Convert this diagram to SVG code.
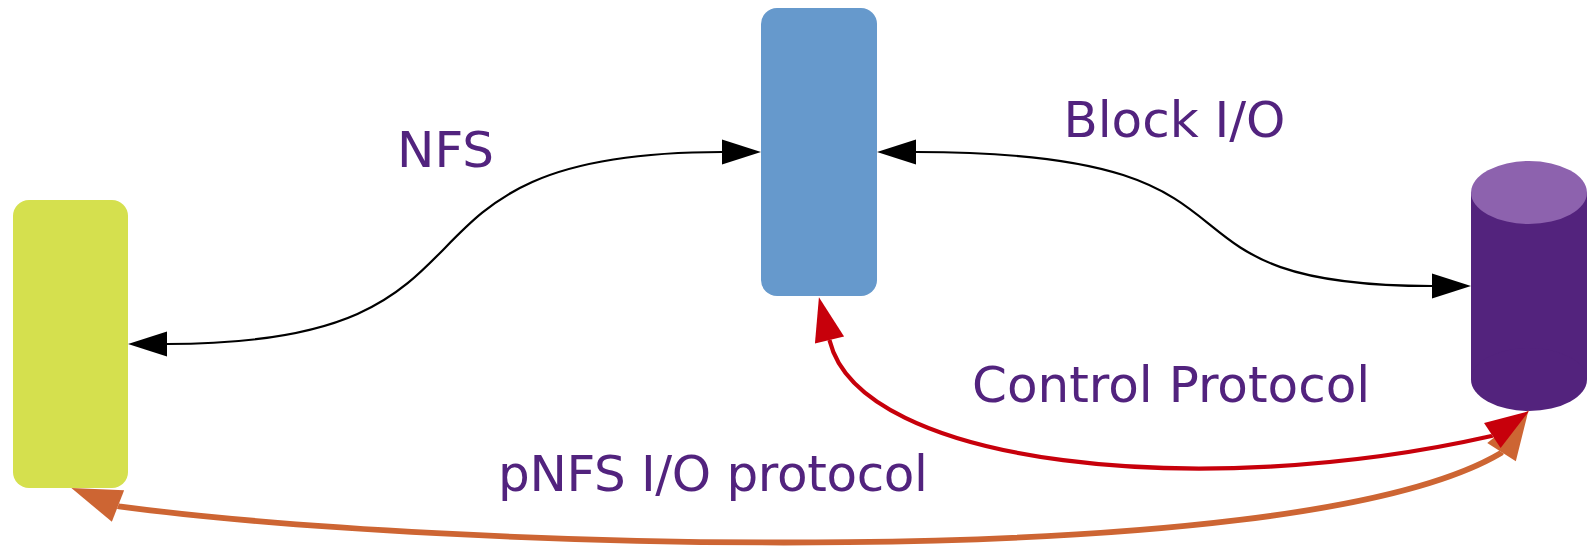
<svg xmlns="http://www.w3.org/2000/svg" width="1587" height="549" viewBox="0 0 1587 549">
<style>
.lbl{font-family:"DejaVu Sans","Liberation Sans",sans-serif;font-size:50px;fill:#52237e}
.blk{fill:none;stroke:#000;stroke-width:2.2}
.red{fill:none;stroke:#c7000b;stroke-width:4.2;stroke-linejoin:round}
.org{fill:none;stroke:#cd6533;stroke-width:5.8;stroke-linejoin:round}
</style>
<defs>
<marker id="ab" markerUnits="userSpaceOnUse" orient="auto-start-reverse" refX="0" refY="0" markerWidth="60" markerHeight="60" viewBox="0 -30 60 60" overflow="visible">
<path d="M0,-12.5 L39,0 L0,12.5 z" fill="#000"/>
</marker>
<marker id="ar" markerUnits="userSpaceOnUse" orient="auto-start-reverse" refX="0" refY="0" markerWidth="60" markerHeight="60" viewBox="0 -30 60 60" overflow="visible">
<path d="M0,-15 L44,0 L0,15 z" fill="#c7000b"/>
</marker>
<marker id="ao" markerUnits="userSpaceOnUse" orient="auto-start-reverse" refX="0" refY="0" markerWidth="60" markerHeight="60" viewBox="0 -30 60 60" overflow="visible">
<path d="M0,-17 L50,0 L0,17 z" fill="#cd6533"/>
</marker>
</defs>
<g id="client">
<rect x="13" y="200" width="115" height="288" rx="16" fill="#d5e04e"/>
</g>
<g id="server">
<rect x="761" y="8" width="116" height="288" rx="16" fill="#6699cc"/>
</g>
<g id="storage">
<rect x="1471" y="192.5" width="116" height="187" fill="#53237d"/>
<ellipse cx="1529" cy="379.5" rx="58" ry="31.5" fill="#53237d"/>
<ellipse cx="1529" cy="192.5" rx="58" ry="31.5" fill="#8d62ae"/>
</g>
<g id="connectors">
<path class="blk" d="M167,344 C535,344 355,152 722,152" marker-start="url(#ab)" marker-end="url(#ab)"/>
<path class="blk" d="M916,152 C1303,152 1122,286 1432,286" marker-start="url(#ab)" marker-end="url(#ab)"/>
<path class="org" d="M118,506 l0.93,0.36 C430,548 1290,578 1501,453 l0.54,-0.84" marker-start="url(#ao)" marker-end="url(#ao)"/>
<path class="red" d="M829.5,340 l0.24,0.97 C860.7,466 1200.5,502 1491.5,436 l0.83,-0.55" marker-start="url(#ar)" marker-end="url(#ar)"/>
</g>
<g id="labels">
<text class="lbl" x="397" y="166.7">NFS</text>
<text class="lbl" x="1063.4" y="137.3">Block I/O</text>
<text class="lbl" x="972" y="402">Control Protocol</text>
<text class="lbl" x="498" y="490.7" textLength="430">pNFS I/O protocol</text>
</g>
</svg>
